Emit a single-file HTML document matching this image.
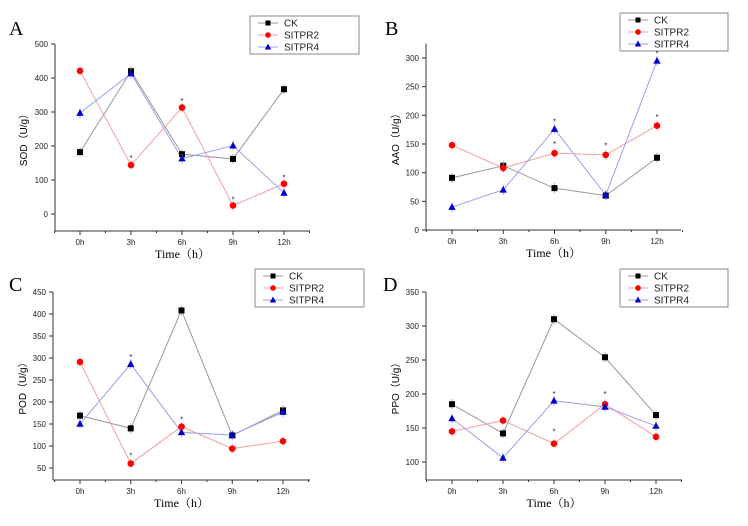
<!DOCTYPE html>
<html><head><meta charset="utf-8"><style>
body{margin:0;background:#fff;}
svg text{font-family:"Liberation Sans",sans-serif;}
</style></head><body>
<svg id="fig" width="748" height="521" xmlns="http://www.w3.org/2000/svg"></svg>
<script>
const hours=["0h","3h","6h","9h","12h"];
const seriesNames=["CK","SITPR2","SITPR4"];
const sodCK=[182,420,176,162,367];
const sodR2=[421,144,313,25,89];
const sodR4=[297,413,163,201,62];
const aaoCK=[91,112,73,60,126];
const aaoR2=[148,108,134,131,182];
const aaoR4=[40,70,176,61,295];
const podCK=[169,140,408,124,181];
const podR2=[291,60,144,94,111];
const podR4=[150,286,131,125,177];
const ppoCK=[185,142,310,254,169];
const ppoR2=[145,161,127,185,137];
const ppoR4=[164,106,190,181,153];
const sodTicks=[0,100,200,300,400,500];
const aaoTicks=[0,50,100,150,200,250,300];
const podTicks=[50,100,150,200,250,300,350,400,450];
const ppoTicks=[100,150,200,250,300,350];
// asterisk markers: [timeIndex, value]
const sodStars=[[1,165],[2,332],[4,108],[8,0]].slice(0,3).concat([[3,43]]);
const aaoStars=[[2,189],[2,150],[3,147],[4,197],[4,308]];
const podStars=[[1,302],[1,78],[2,160]];
const ppoStars=[[2,200],[2,145],[3,200]];

const NS="http://www.w3.org/2000/svg";
const svg=document.getElementById('fig');
function mk(tag,attrs,parent,text){const e=document.createElementNS(NS,tag);for(const k in attrs)e.setAttribute(k,attrs[k]);if(text!==undefined)e.textContent=text;(parent||svg).appendChild(e);return e;}
const colors=["#000","#f00","#00c"];
const lineColors=["#999","#f4a0a0","#9aa0e8"];

function panel(p){
  const g=mk('g',{});
  
  
  const {x0,x12,left,right,bottom,vTop,yTop,vBot}=p;
  const X=i=>x0+(x12-x0)*i/4;
  const Y=v=>bottom-(v-vBot)/(vTop-vBot)*(bottom-yTop);
  const t=mk('text',{x:p.lx,y:p.ly,'font-size':20,style:'font-family:"Liberation Serif",serif'},g,p.letter);
  
  
  const axT=Y(p.axisMax);
  mk('line',{x1:left,y1:axT,x2:left,y2:bottom,stroke:'#333','stroke-width':1},g);
  mk('line',{x1:left,y1:bottom,x2:right,y2:bottom,stroke:'#333','stroke-width':1},g);
  p.ticks.forEach(v=>{
    const y=Y(v);
    mk('line',{x1:left-4,y1:y,x2:left,y2:y,stroke:'#333'},g);
    const tl=mk('text',{x:left-7,y:y+3,'font-size':8,'text-anchor':'end',fill:'#222'},g,v);
    
    
  });
  for(let i=0;i<5;i++){
    mk('line',{x1:X(i),y1:bottom,x2:X(i),y2:bottom+4,stroke:'#333'},g);
    mk('line',{x1:X(i+0.5),y1:bottom,x2:X(i+0.5),y2:bottom+2,stroke:'#333'},g);
    const tl=mk('text',{x:X(i),y:bottom+14,'font-size':8,'text-anchor':'middle',fill:'#222'},g,hours[i]);
    
    
  }
  mk('line',{x1:X(-0.5),y1:bottom,x2:X(-0.5),y2:bottom+2,stroke:'#333'},g);
  const xt=mk('text',{x:(left+right)/2,y:bottom+27,'font-size':12,'text-anchor':'middle',style:'font-family:"Liberation Serif","Noto Serif CJK SC",serif'},g,'Time（h）');
  
  
  const cy=(axT+bottom)/2;
  const yt=mk('text',{x:p.yx,y:cy,'font-size':10,'text-anchor':'middle',transform:`rotate(-90 ${p.yx} ${cy})`,style:'font-family:"Liberation Sans","Noto Sans CJK SC",sans-serif'},g,p.ytitle);
  
  
  p.series.forEach((s,k)=>{
    const pts=s.map((v,i)=>X(i)+','+Y(v)).join(' ');
    const pl=mk('polyline',{points:pts,fill:'none',stroke:lineColors[k],'stroke-width':1},g);
    
    
  });
  p.series.forEach((s,k)=>{
    s.forEach((v,i)=>{
      const x=X(i),y=Y(v);
      mk('line',{x1:x,y1:y-5,x2:x,y2:y+5,stroke:lineColors[k],'stroke-width':0.8},g);
      let m;
      if(k===0)m=mk('rect',{x:x-3,y:y-3,width:6,height:6,fill:'#000'},g);
      else if(k===1)m=mk('circle',{cx:x,cy:y,r:3.3,fill:'#f00'},g);
      else m=mk('polygon',{points:`${x},${y-4} ${x-3.7},${y+2.8} ${x+3.7},${y+2.8}`,fill:'#00c'},g);
      
      
    });
  });
  p.stars.forEach(([i,v])=>{
    const st=mk('text',{x:X(i),y:Y(v)+3,'font-size':8,'text-anchor':'middle',fill:'#333'},g,'*');
    
    
  });
  const L=p.leg;
  const lg=mk('g',{},g);
  
  
  mk('rect',{x:L.x,y:L.y,width:L.w,height:L.h,fill:'#fff',stroke:'#888','stroke-width':1},lg);
  seriesNames.forEach((n,k)=>{
    const yy=L.y+7+k*12;
    mk('line',{x1:L.x+8,y1:yy,x2:L.x+28,y2:yy,stroke:lineColors[k]},lg);
    const cx=L.x+18;
    if(k===0)mk('rect',{x:cx-2.5,y:yy-2.5,width:5,height:5,fill:'#000'},lg);
    else if(k===1)mk('circle',{cx:cx,cy:yy,r:2.8,fill:'#f00'},lg);
    else mk('polygon',{points:`${cx},${yy-3.5} ${cx-3.2},${yy+2.5} ${cx+3.2},${yy+2.5}`,fill:'#00c'},lg);
    const et=mk('text',{x:L.x+34,y:yy+3.5,'font-size':10,fill:'#222'},lg,n);
    
    
  });
}

panel({letter:'A',lx:9,ly:35,x0:80,x12:284,left:55,right:310,bottom:231,vBot:-50,vTop:500,yTop:44,axisMax:500,
  ticks:sodTicks,ytitle:'SOD（U/g）',yx:27,series:[sodCK,sodR2,sodR4],stars:[[1,165],[2,332],[3,43],[4,108]],
  leg:{x:250,y:16,w:109,h:38}});
panel({letter:'B',lx:385,ly:35,x0:452,x12:657,left:426,right:681,bottom:230,vBot:0,vTop:300,yTop:58,axisMax:325,
  ticks:aaoTicks,ytitle:'AAO（U/g）',yx:399,series:[aaoCK,aaoR2,aaoR4],stars:aaoStars,
  leg:{x:620,y:13,w:108,h:38}});
panel({letter:'C',lx:9,ly:291,x0:80,x12:283,left:53,right:310,bottom:480,vBot:22.7,vTop:450,yTop:292,axisMax:450,
  ticks:podTicks,ytitle:'POD（U/g）',yx:26,series:[podCK,podR2,podR4],stars:podStars,
  leg:{x:255,y:269,w:109,h:38}});
panel({letter:'D',lx:383,ly:291,x0:452,x12:656,left:426,right:682,bottom:480,vBot:73.5,vTop:350,yTop:292,axisMax:350,
  ticks:ppoTicks,ytitle:'PPO（U/g）',yx:399,series:[ppoCK,ppoR2,ppoR4],stars:ppoStars,
  leg:{x:620,y:269,w:108,h:38}});
</script>
</body></html>
